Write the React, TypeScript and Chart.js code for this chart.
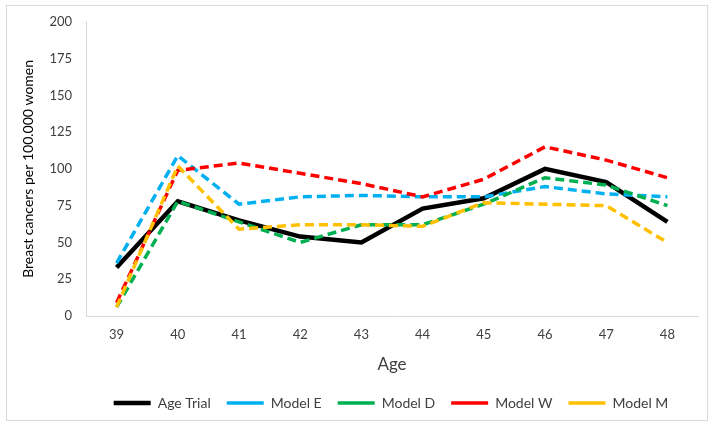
import React, { useEffect, useRef } from "react";
import { Chart, registerables } from "chart.js";

Chart.register(...registerables);

const ages = ["39", "40", "41", "42", "43", "44", "45", "46", "47", "48"];
const ageTrial = [33, 78, 65, 54, 50, 73, 80, 100, 91, 64];
const modelE = [36, 109, 76, 81, 82, 81, 81, 88, 83, 81];
const modelD = [6, 78, 64, 50, 62, 62, 76, 94, 89, 75];
const modelW = [9, 99, 104, 97, 90, 81, 93, 115, 106, 94];
const modelM = [6, 102, 59, 62, 62, 61, 77, 76, 75, 50];
const yTicks = [0, 25, 50, 75, 100, 125, 150, 175, 200];

const FONT = "Lato, 'Open Sans', sans-serif";

const frame = {
  id: "frame",
  beforeDraw(chart: any) {
    const ctx = chart.ctx;
    ctx.save();
    ctx.fillStyle = "#ffffff";
    ctx.fillRect(0, 0, chart.width, chart.height);
    ctx.strokeStyle = "#d9d9d9";
    ctx.lineWidth = 1;
    ctx.strokeRect(6.5, 5.5, 701, 415);
    ctx.restore();
  },
  afterLayout(chart: any) {
    const lg = chart.legend;
    if (lg) {
      lg.left += 35;
      lg.right += 35;
    }
  },
};

export default function App() {
  const ref = useRef<HTMLCanvasElement>(null);
  useEffect(() => {
    if (!ref.current) return;
    const dash = [9, 5];
    const mk = (label: string, data: number[], color: string, width: number, d: number[], order: number) => ({
      label,
      data,
      borderColor: color,
      backgroundColor: color,
      borderWidth: width,
      borderDash: d,
      pointRadius: 0,
      tension: 0,
      fill: false,
      order,
    });
    const chart = new Chart(ref.current, {
      type: "line",
      data: {
        labels: ages,
        datasets: [
          mk("Age Trial", ageTrial, "#000000", 4.5, [], 6),
          mk("Model E", modelE, "#00b0f0", 3.5, dash, 5),
          mk("Model D", modelD, "#00b050", 3.5, dash, 4),
          mk("Model W", modelW, "#ff0000", 3.5, dash, 3),
          mk("Model M", modelM, "#ffc000", 3.5, dash, 2),
        ],
      },
      options: {
        animation: false,
        responsive: false,
        layout: { padding: { left: 14, top: 14, right: 16, bottom: 8 } },
        scales: {
          x: {
            offset: true,
            grid: { display: false, drawTicks: false },
            border: { display: true, color: "#d9d9d9", width: 1 },
            ticks: { color: "#404040", font: { family: FONT, size: 13 }, padding: 11 },
            title: { display: true, text: "Age", color: "#404040", font: { family: FONT, size: 17 }, padding: { top: 12, bottom: 5 } },
            afterFit: (s: any) => { s.height = 64; },
          },
          y: {
            min: 0,
            max: 200,
            afterBuildTicks: (s: any) => { s.ticks = yTicks.map((v) => ({ value: v })); },
            grid: { display: false, drawTicks: false },
            border: { display: true, color: "#d9d9d9", width: 1 },
            ticks: { color: "#404040", font: { family: FONT, size: 13 }, padding: 14 },
            title: { display: true, text: "Breast cancers per 100.000 women", color: "#000000", font: { family: FONT, size: 14 }, padding: { top: 6, bottom: 0 } },
            afterFit: (s: any) => { s.width = 72; },
          },
        },
        plugins: {
          legend: {
            position: "bottom",
            labels: {
              usePointStyle: true,
              pointStyle: "line",
              pointStyleWidth: 37,
              boxWidth: 37,
              color: "#404040",
              font: { family: FONT, size: 14 },
              padding: 16,
              sort: (a: any, b: any) => a.datasetIndex - b.datasetIndex,
            },
          },
          tooltip: { enabled: false },
        },
      },
      plugins: [frame],
    });
    return () => chart.destroy();
  }, []);
  return (
    <div style={{ position: "absolute", left: 0, top: 0, width: 714, height: 428 }}>
      <canvas ref={ref} width={714} height={428} />
    </div>
  );
}
